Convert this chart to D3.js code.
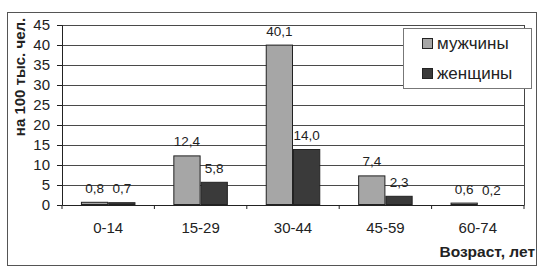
<!DOCTYPE html>
<html>
<head>
<meta charset="utf-8">
<script src="https://cdn.jsdelivr.net/npm/d3@7"></script>
<style>
  body { margin: 0; background: #fff; }
  text { font-family: "Liberation Sans", Arial, sans-serif; fill: #222; }
</style>
</head>
<body>
<svg width="550" height="274"></svg>
<script>
var ageGroups = ['0-14', '15-29', '30-44', '45-59', '60-74'];
var men = [0.8, 12.4, 40.1, 7.4, 0.6];
var women = [0.7, 5.8, 14.0, 2.3, 0.2];
var seriesNames = ['мужчины', 'женщины'];
var yTicks = [0, 5, 10, 15, 20, 25, 30, 35, 40, 45];

var svg = d3.select('svg');
var colors = ['#a6a6a6', '#3a3a3a'];

// outer frame
svg.append('rect')
  .attr('x', 7.5).attr('y', 12.5)
  .attr('width', 529).attr('height', 253)
  .attr('fill', '#fff')
  .attr('stroke', '#555');

var pLeft = 62, pTop = 25, pRight = 524, pBottom = 205;
var x = d3.scaleBand().domain(ageGroups).range([pLeft, pRight]).paddingInner(0.41).paddingOuter(0.205);
var y = d3.scaleLinear().domain([0, 45]).range([pBottom, pTop]);

// gridlines
svg.selectAll('.grid')
  .data(yTicks.slice(1))
  .enter()
  .append('line')
  .attr('x1', pLeft).attr('x2', pRight)
  .attr('y1', function(d) { return Math.round(y(d)) + 0.5; })
  .attr('y2', function(d) { return Math.round(y(d)) + 0.5; })
  .style('stroke', '#4a4a4a')
  .style('stroke-width', 1);

// right border of plot
svg.append('line')
  .attr('x1', pRight + 0.5).attr('x2', pRight + 0.5)
  .attr('y1', pTop).attr('y2', pBottom)
  .style('stroke', '#444');

// bars
var groups = ageGroups.map(function(g, i) { return { key: g, vals: [men[i], women[i]] }; });
var bw = x.bandwidth() / 2;
groups.forEach(function(g) {
  g.vals.forEach(function(v, s) {
    var bx = x(g.key) + s * bw;
    svg.append('rect')
      .attr('x', bx + 0.5)
      .attr('y', y(v) + 0.5)
      .attr('width', bw - 1)
      .attr('height', Math.max(0, y(0) - y(v) - 1))
      .attr('fill', colors[s])
      .attr('stroke', '#222')
      .attr('stroke-width', 1);
    svg.append('text')
      .attr('x', bx + bw / 2)
      .attr('y', y(v) - 9)
      .attr('text-anchor', 'middle')
      .style('font-size', '13.5px')
      .text(d3.format('.1f')(v).replace('.', ','));
  });
});

// y axis
var yAxis = d3.axisLeft(y).tickValues(yTicks).tickSize(5).tickPadding(7);
var gy = svg.append('g').attr('transform', 'translate(' + pLeft + ',0)').call(yAxis);
gy.selectAll('text').style('font-size', '15px').style('font-family', '"Liberation Sans", Arial, sans-serif').attr('fill', '#222');
gy.selectAll('line, path').attr('stroke', '#222');

// x axis
var xAxis = d3.axisBottom(x).tickSize(0).tickPadding(17);
var gx = svg.append('g').attr('transform', 'translate(0,' + pBottom + ')').call(xAxis);
gx.selectAll('text').style('font-size', '15px').style('font-family', '"Liberation Sans", Arial, sans-serif').attr('fill', '#222');
gx.selectAll('path').attr('stroke', '#222');
var step = x.step();
gx.selectAll('.sep')
  .data(d3.range(ageGroups.length + 1))
  .enter()
  .append('line')
  .attr('x1', function(i) { return pLeft + i * step; })
  .attr('x2', function(i) { return pLeft + i * step; })
  .attr('y1', 0).attr('y2', 4)
  .attr('stroke', '#222');

// axis titles
svg.append('text')
  .attr('transform', 'translate(25,77) rotate(-90)')
  .attr('text-anchor', 'middle')
  .style('font-size', '15px')
  .style('font-weight', 'bold')
  .text('на 100 тыс. чел.');
svg.append('text')
  .attr('x', 535).attr('y', 257)
  .attr('text-anchor', 'end')
  .style('font-size', '15.5px')
  .style('font-weight', 'bold')
  .text('Возраст, лет');

// legend
var lg = svg.append('g');
lg.append('rect')
  .attr('x', 403.5).attr('y', 28.5)
  .attr('width', 128).attr('height', 60)
  .attr('fill', '#fff')
  .attr('stroke', '#777');
seriesNames.forEach(function(n, i) {
  lg.append('rect')
    .attr('x', 422.5).attr('y', 38.5 + i * 30)
    .attr('width', 10).attr('height', 10)
    .attr('fill', colors[i])
    .attr('stroke', '#222');
  lg.append('text')
    .attr('x', 437).attr('y', 49 + i * 30)
    .style('font-size', '17px')
    .text(n);
});
</script>
</body>
</html>
